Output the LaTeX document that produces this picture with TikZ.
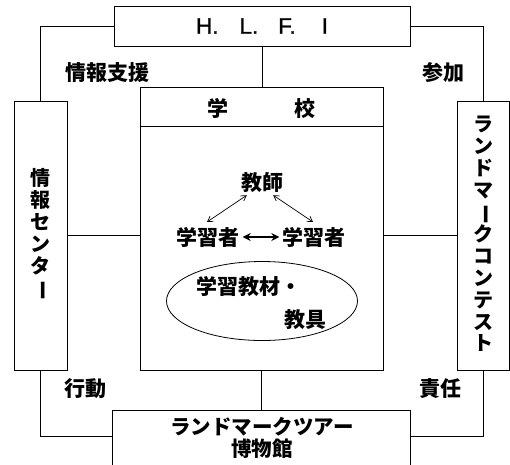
\documentclass[tikz,border=0pt]{standalone}
\usepackage{fontspec}
\usepackage{graphicx}
\newfontfamily\jp{Noto Sans CJK JP}
\newfontfamily\hl{Liberation Sans}[FakeBold=1.2]
\usetikzlibrary{arrows.meta,shapes.geometric,calc}
\newcommand{\vbar}{\rotatebox[origin=c]{-90}{ー}}
\begin{document}
\begin{tikzpicture}[x=1pt,y=-1pt,
  box/.style={draw,line width=0.8pt,inner sep=0pt},
  line/.style={line width=0.8pt},
  txt/.style={inner sep=0pt,font=\jp\bfseries\fontsize{21}{23}\selectfont},
  vtxt/.style={inner sep=0pt,align=center,font=\jp\bfseries\fontsize{20}{21.8}\selectfont},
  arr/.style={line width=0.7pt,{Straight Barb[length=5pt,width=6pt]}-{Straight Barb[length=5pt,width=6pt]}},
  harr/.style={line width=1.1pt,{Stealth[length=8pt,width=8pt]}-{Stealth[length=8pt,width=8pt]}}]
\useasboundingbox (0,0) rectangle (510,464);
% boxes
\node[box,minimum width=296pt,minimum height=40pt] (hlfi) at (262,26)
  {\hl\fontsize{22.5}{24}\selectfont H.\hspace{21pt}L.\hspace{20pt}F.\hspace{26pt}I};
\node[box,minimum width=53pt,minimum height=269pt] (left) at (40.5,235.5) {};
\node[box,minimum width=52pt,minimum height=269pt] (right) at (483.5,235.5) {};
\node[box,minimum width=243pt,minimum height=283pt] (school) at (261.5,228.5) {};
\node[box,minimum width=298pt,minimum height=60pt] (bot) at (261,440) {};
% school header
\draw[line] ([yshift=-40pt]school.north west) -- ([yshift=-40pt]school.north east);
\node[txt] (gakko) at (261,108) {学\hspace{66pt}校};
% vertical texts
\node[vtxt] (jc) at (40.5,234.5) {情\\報\\セ\\ン\\タ\\\vbar};
\node[vtxt] (lc) at (483.5,234) {ラ\\ン\\ド\\マ\\\vbar\\ク\\コ\\ン\\テ\\ス\\ト};
% bottom text
\node[vtxt,font=\jp\bfseries\fontsize{20.5}{22}\selectfont] (lt) at (262,438) {ランドマークツアー\\博物館};
% labels
\node[txt] (l1) at (107,73) {情報支援};
\node[txt] (l2) at (443,73) {参加};
\node[txt] (l3) at (85,389) {行動};
\node[txt] (l4) at (440,389) {責任};
% connectors
\draw[line] (hlfi.west) -| (left.north);
\draw[line] (hlfi.east) -| (right.north);
\draw[line] (hlfi.south) -- (hlfi.south |- school.north);
\draw[line] (left.east) -- (left.east -| school.west);
\draw[line] (right.west) -- (right.west -| school.east);
\draw[line] (school.south) -- (school.south |- bot.north);
\coordinate (bl) at ([yshift=-27pt]bot.north west);
\coordinate (br) at ([yshift=-27pt]bot.north east);
\draw[line] (left.south) |- (bl);
\draw[line] (right.south) |- (br);
% inside school
\node[txt] (teacher) at (262,183) {教師};
\node[txt] (s1) at (208,237) {学習者};
\node[txt] (s2) at (314,237) {学習者};
\draw[arr] (teacher.south west) ++(6,2) coordinate (t1) -- (207,222);
\draw[arr] (teacher.south east) ++(-10,2) coordinate (t2) -- (313,222);
\draw[harr,shorten <=3pt,shorten >=3pt] (s1.east) -- (s1.east -| s2.west);
\node[draw,line width=0.8pt,ellipse,minimum width=191pt,minimum height=79pt,inner sep=0pt] (ell) at (262,301) {};
\node[txt] (m1) at (249,287) {学習教材・};
\node[txt] (m2) at (305,320) {教具};
\end{tikzpicture}
\end{document}
